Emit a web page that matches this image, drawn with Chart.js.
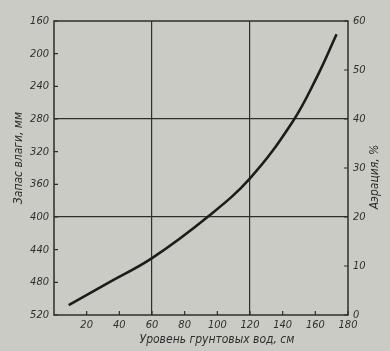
<!DOCTYPE html>
<html>
<head>
<meta charset="utf-8">
<script src="https://cdn.jsdelivr.net/npm/chart.js@4.4.1/dist/chart.umd.min.js"></script>
<style>
  html, body { margin: 0; padding: 0; background: #cbcbc6; }
  #wrap { width: 390px; height: 351px; }
</style>
</head>
<body>
<div id="wrap"><canvas id="chart"></canvas></div>
<script>
// groundwater level, cm
const levels = [9, 34, 60, 94, 120, 146, 161, 173];
// aeration, %
const aeration = [2.0, 6.7, 11.6, 20.0, 27.9, 39.4, 48.6, 57.3];

const xTicks = [20, 40, 60, 80, 100, 120, 140, 160, 180];
const moistureTicks = [160, 200, 240, 280, 320, 360, 400, 440, 480, 520];
const aerationTicks = [0, 10, 20, 30, 40, 50, 60];

const xTitle = "Уровень грунтовых вод, см";
const leftTitle = "Запас влаги, мм";
const rightTitle = "Аэрация, %";

const ink = "#2e2e2e";
const font = "'DejaVu Sans Condensed', 'Liberation Sans Narrow', 'DejaVu Sans', sans-serif";
const tickFont = { family: font, size: 11, style: "italic" };

// frame, inward tick marks and titles
const decor = {
    id: "decor",
    afterDraw(chart) {
        const { ctx, chartArea: a, scales } = chart;
        ctx.save();
        ctx.strokeStyle = ink;
        ctx.lineWidth = 1.5;
        ctx.strokeRect(a.left, a.top, a.right - a.left, a.bottom - a.top);

        ctx.lineWidth = 1.2;
        ctx.beginPath();
        xTicks.forEach(v => {
            const px = scales.x.getPixelForValue(v);
            ctx.moveTo(px, a.bottom);
            ctx.lineTo(px, a.bottom - 4);
        });
        moistureTicks.forEach(v => {
            const py = scales.y.getPixelForValue(v);
            ctx.moveTo(a.left, py);
            ctx.lineTo(a.left + 4, py);
        });
        aerationTicks.forEach(v => {
            const py = scales.y1.getPixelForValue(v);
            ctx.moveTo(a.right, py);
            ctx.lineTo(a.right - 4, py);
        });
        ctx.stroke();

        ctx.fillStyle = ink;
        ctx.font = "italic 12px " + font;
        ctx.textAlign = "center";
        ctx.textBaseline = "middle";
        ctx.fillText(xTitle, 217, 340);

        ctx.translate(19, 158);
        ctx.rotate(-Math.PI / 2);
        ctx.fillText(leftTitle, 0, 0);
        ctx.setTransform(1, 0, 0, 1, 0, 0);

        ctx.translate(375, 177);
        ctx.rotate(-Math.PI / 2);
        ctx.fillText(rightTitle, 0, 0);
        ctx.restore();
    }
};

const ctx = document.getElementById("chart").getContext("2d");
new Chart(ctx, {
    type: "line",
    data: {
        datasets: [{
            data: levels.map((x, i) => ({ x: x, y: aeration[i] })),
            yAxisID: "y1",
            borderColor: "#1c1c1c",
            borderWidth: 2.6,
            pointRadius: 0,
            tension: 0.4,
            fill: false
        }]
    },
    options: {
        responsive: true,
        maintainAspectRatio: false,
        animation: false,
        layout: { padding: { top: 21, left: 0, right: 0, bottom: 0 } },
        plugins: { legend: { display: false }, tooltip: { enabled: false } },
        scales: {
            x: {
                type: "linear",
                min: 0,
                max: 180,
                afterBuildTicks: s => { s.ticks = xTicks.map(v => ({ value: v })); },
                afterFit: s => { s.height = 36; },
                border: { display: false },
                grid: {
                    drawTicks: false,
                    color: c => (c.tick && (c.tick.value === 60 || c.tick.value === 120)) ? ink : "transparent",
                    lineWidth: 1.2
                },
                ticks: { color: ink, font: tickFont, padding: 4, maxRotation: 0 }
            },
            y: {
                position: "left",
                reverse: true,
                min: 160,
                max: 520,
                afterBuildTicks: s => { s.ticks = moistureTicks.map(v => ({ value: v })); },
                afterFit: s => { s.width = 54; },
                border: { display: false },
                grid: {
                    drawTicks: false,
                    color: c => (c.tick && (c.tick.value === 280 || c.tick.value === 400)) ? ink : "transparent",
                    lineWidth: 1.2
                },
                ticks: { color: ink, font: tickFont, padding: 5 }
            },
            y1: {
                position: "right",
                min: 0,
                max: 60,
                afterBuildTicks: s => { s.ticks = aerationTicks.map(v => ({ value: v })); },
                afterFit: s => { s.width = 42; },
                border: { display: false },
                grid: { drawOnChartArea: false, drawTicks: false },
                ticks: { color: ink, font: tickFont, padding: 5 }
            }
        }
    },
    plugins: [decor]
});
</script>
</body>
</html>
